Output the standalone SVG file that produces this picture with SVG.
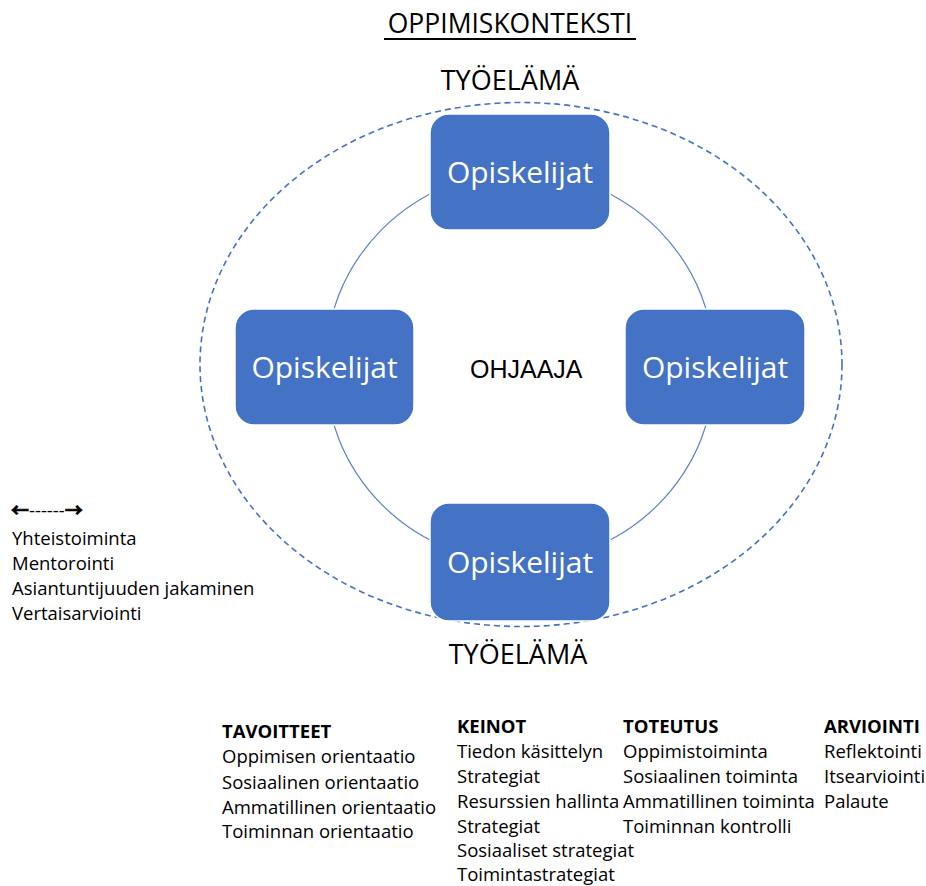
<svg xmlns="http://www.w3.org/2000/svg" width="926" height="886" viewBox="0 0 926 886">
  <style>
    .txt { font-family: "Open Sans", "Liberation Sans", sans-serif; fill: #000; }
    .title { font-size: 26.5px; }
    .ctx { font-size: 27px; }
    .item { font-size: 18.5px; }
    .head { font-size: 18.5px; font-weight: bold; }
    .arrow { font-family: "Noto Sans CJK SC", "DejaVu Sans", sans-serif; font-size: 18px; font-weight: bold; stroke: #000; stroke-width: 0.7; }
    .node rect { fill: #4472C4; stroke: #ffffff; stroke-width: 1.5; }
    .node text { font-family: "Open Sans", "Liberation Sans", sans-serif; font-size: 30px; fill: #ffffff; text-anchor: middle; }
    .ring { fill: none; stroke: #5B7FCB; stroke-width: 1.2; }
    .outer { fill: none; stroke: #4472C4; stroke-width: 1.6; stroke-dasharray: 6 4; }
  </style>

  <!-- Heading -->
  <text class="txt title" x="510" y="33" text-anchor="middle">OPPIMISKONTEKSTI</text>
  <rect x="384" y="38" width="252" height="2" fill="#000"/>

  <!-- Outer working-life boundary -->
  <ellipse class="outer" cx="521" cy="364.5" rx="321" ry="262"/>
  <text class="txt ctx" x="510" y="90" text-anchor="middle">TYÖELÄMÄ</text>
  <text class="txt ctx" x="518" y="664" text-anchor="middle">TYÖELÄMÄ</text>

  <!-- Cycle connectors -->
  <g id="connectors">
    <circle class="ring" cx="520" cy="367" r="195"/>
  </g>

  <!-- Centre label -->
  <g id="ohjaaja">
    <text x="470" y="378" font-family="Liberation Sans, Arial, sans-serif" font-size="25" fill="#000">OHJAAJA</text>
  </g>

  <!-- Student nodes -->
  <g id="node-top" class="node">
    <rect x="430" y="114" width="180" height="116" rx="19"/>
    <text x="520" y="183">Opiskelijat</text>
  </g>
  <g id="node-left" class="node">
    <rect x="235" y="309" width="179" height="116" rx="19"/>
    <text x="324.5" y="378">Opiskelijat</text>
  </g>
  <g id="node-right" class="node">
    <rect x="625" y="309" width="180" height="116" rx="19"/>
    <text x="715" y="378">Opiskelijat</text>
  </g>
  <g id="node-bottom" class="node">
    <rect x="430" y="503" width="180" height="118" rx="19"/>
    <text x="520" y="573">Opiskelijat</text>
  </g>

  <!-- Interaction legend -->
  <g id="legend" class="txt item">
    <text x="11" y="517"><tspan class="arrow">←</tspan>------<tspan class="arrow">→</tspan></text>
    <text x="12" y="545">Yhteistoiminta</text>
    <text x="12" y="570">Mentorointi</text>
    <text x="12" y="595">Asiantuntijuuden jakaminen</text>
    <text x="12" y="620">Vertaisarviointi</text>
  </g>

  <!-- Goals column -->
  <g id="col-tavoitteet" class="txt item">
    <text class="head" x="222" y="738">TAVOITTEET</text>
    <text x="222" y="763">Oppimisen orientaatio</text>
    <text x="222" y="789">Sosiaalinen orientaatio</text>
    <text x="222" y="814">Ammatillinen orientaatio</text>
    <text x="222" y="838">Toiminnan orientaatio</text>
  </g>

  <!-- Means column -->
  <g id="col-keinot" class="txt item">
    <text class="head" x="457" y="733">KEINOT</text>
    <text x="457" y="758">Tiedon käsittelyn</text>
    <text x="457" y="783">Strategiat</text>
    <text x="457" y="808">Resurssien hallinta</text>
    <text x="457" y="833">Strategiat</text>
    <text x="457" y="857">Sosiaaliset strategiat</text>
    <text x="457" y="881">Toimintastrategiat</text>
  </g>

  <!-- Implementation column -->
  <g id="col-toteutus" class="txt item">
    <text class="head" x="623" y="733">TOTEUTUS</text>
    <text x="623" y="758">Oppimistoiminta</text>
    <text x="623" y="783">Sosiaalinen toiminta</text>
    <text x="623" y="808">Ammatillinen toiminta</text>
    <text x="623" y="833">Toiminnan kontrolli</text>
  </g>

  <!-- Assessment column -->
  <g id="col-arviointi" class="txt item">
    <text class="head" x="824" y="733">ARVIOINTI</text>
    <text x="824" y="758">Reflektointi</text>
    <text x="824" y="783">Itsearviointi</text>
    <text x="824" y="808">Palaute</text>
  </g>
</svg>
